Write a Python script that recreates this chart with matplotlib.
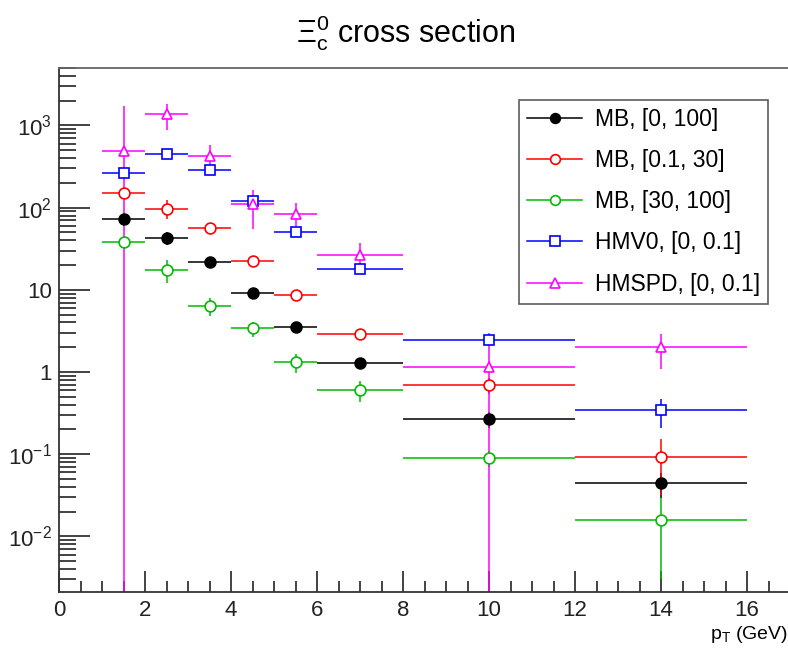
import matplotlib.pyplot as plt
import matplotlib.ticker as mticker
from matplotlib.lines import Line2D
import numpy as np

plt.rcParams['font.family'] = ['Liberation Sans', 'DejaVu Sans']
plt.rcParams['mathtext.fontset'] = 'custom'
plt.rcParams['mathtext.rm'] = 'Liberation Sans'
plt.rcParams['mathtext.it'] = 'Liberation Sans'

# pT bins (GeV)
bin_lo = [1, 2, 3, 4, 5, 6, 8, 12]
bin_hi = [2, 3, 4, 5, 6, 8, 12, 16]

# cross sections per selection
mb_0_100 = [73, 43, 22, 9.2, 3.5, 1.3, 0.27, 0.044]
mb_0_100_err = [10, 8, 3, 1.0, 0.4, 0.15, 0.06, 0.015]
mb_01_30 = [152, 97, 57, 22.5, 8.7, 2.9, 0.69, 0.092]
mb_01_30_err = [12, 25, 5, 2.5, 1.0, 0.4, 0.15, 0.06]
mb_30_100 = [38, 17.5, 6.4, 3.4, 1.32, 0.6, 0.089, 0.016]
mb_30_100_err = [5, 5.5, 1.6, 0.7, 0.35, 0.17, 0.02, 0.013]
hmv0 = [267, 443, 283, 120, 51, 18, 2.45, 0.34]
hmv0_err = [20, 55, 25, 10, 5, 2, 0.3, 0.13]
hmspd = [482, 1360, 420, 110, 84, 26.7, 1.15, 2.0]
hmspd_err = [1220, 470, 150, 55, 30, 10.5, 1.85, 0.9]

y_major = [1e-2, 1e-1, 1, 10, 100, 1000]

x = [(a + b) / 2 for a, b in zip(bin_lo, bin_hi)]
xerr = [(b - a) / 2 for a, b in zip(bin_lo, bin_hi)]

fig = plt.figure(figsize=(7.88, 6.51), dpi=100)
ax = fig.add_axes([0.075, 0.0906, 0.925, 0.805])

series = [
    (mb_0_100, mb_0_100_err, 'black', 'o', 'black', 'MB, [0, 100]'),
    (mb_01_30, mb_01_30_err, '#ff0000', 'o', 'white', 'MB, [0.1, 30]'),
    (mb_30_100, mb_30_100_err, '#00bb00', 'o', 'white', 'MB, [30, 100]'),
    (hmv0, hmv0_err, '#0000ff', 's', 'white', 'HMV0, [0, 0.1]'),
    (hmspd, hmspd_err, '#ff00ff', '^', 'white', 'HMSPD, [0, 0.1]'),
]

handles = []
for y, yerr, col, mk, fc, lab in series:
    ax.errorbar(x, y, xerr=xerr, yerr=yerr, fmt=mk, color=col, mfc=fc, mec=col,
                ms=7.8, mew=1.2, elinewidth=1.1, capsize=0)
    handles.append(Line2D([], [], color=col, lw=1.1, marker=mk, mfc=fc, mec=col,
                          ms=7, mew=1.2, label=lab))

ax.set_yscale('log', nonpositive='clip')
ax.set_xlim(0, 16.95)
ax.set_ylim(0.0021, 5000)

ax.xaxis.set_major_locator(mticker.MultipleLocator(2))
ax.xaxis.set_minor_locator(mticker.MultipleLocator(0.5))
ax.yaxis.set_major_locator(mticker.FixedLocator(y_major))
ax.yaxis.set_minor_locator(mticker.LogLocator(base=10, subs=np.arange(2, 10), numticks=20))


def ylab(v, pos):
    e = int(round(np.log10(v)))
    if e == 0:
        return '1'
    if e == 1:
        return '10'
    return r'$10^{%d}$' % e


ax.yaxis.set_major_formatter(mticker.FuncFormatter(ylab))
ax.yaxis.set_minor_formatter(mticker.NullFormatter())

ax.tick_params(axis='both', which='both', direction='in', top=False, right=False,
               labelsize=16, colors='#222222')
ax.tick_params(axis='y', which='major', length=22, width=1.2, pad=5)
ax.tick_params(axis='y', which='minor', length=12, width=1.2)
ax.tick_params(axis='x', which='major', length=15, width=1.2, pad=6)
ax.tick_params(axis='x', which='minor', length=8, width=1.2)

for s in ['left', 'bottom']:
    ax.spines[s].set_color('#333333')
    ax.spines[s].set_linewidth(1.3)
ax.spines['top'].set_color('#666666')
ax.spines['top'].set_linewidth(1.3)
ax.spines['right'].set_visible(False)

ax.set_xlabel(r'p$_{\rm T}$ (GeV)', fontsize=14, loc='right', labelpad=2)

fig.suptitle(r'$\Xi_{\rm c}^{0}$ cross section', fontsize=22, x=0.515, y=0.98)

leg = ax.legend(handles=handles, loc='upper right', bbox_to_anchor=(0.9726, 0.939),
                fontsize=16.5, frameon=True, fancybox=False, edgecolor='#333333',
                borderpad=0.36, labelspacing=0.79, handlelength=2.4,
                handletextpad=0.55, borderaxespad=0)
leg.get_frame().set_linewidth(1.2)

fig.savefig('out.png', dpi=100)
